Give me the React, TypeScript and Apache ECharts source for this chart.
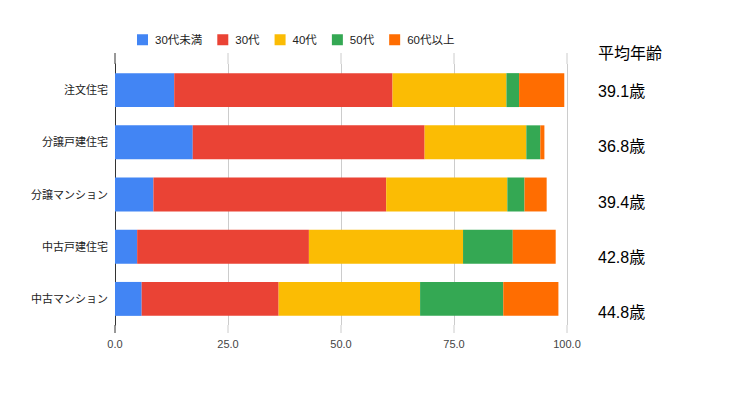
import React, { useEffect, useRef } from "react";
import * as echarts from "echarts";

const categories = ["注文住宅", "分譲戸建住宅", "分譲マンション", "中古戸建住宅", "中古マンション"];
const seriesNames = ["30代未満", "30代", "40代", "50代", "60代以上"];
const under30 = [13.1, 17.2, 8.5, 4.9, 5.9];
const age30s = [48.3, 51.3, 51.5, 38.0, 30.3];
const age40s = [25.2, 22.5, 26.8, 34.1, 31.3];
const age50s = [2.8, 3.1, 3.8, 11.0, 18.4];
const over60 = [10.0, 0.9, 4.9, 9.5, 12.2];
const avgAges = ["39.1歳", "36.8歳", "39.4歳", "42.8歳", "44.8歳"];
const avgTitle = "平均年齢";
const xTicks = [0, 25, 50, 75, 100];
const colors = ["#4285F4", "#EA4335", "#FBBC04", "#34A853", "#FF6D01"];

const FONT = "Arial, 'Liberation Sans', 'Noto Sans CJK JP', sans-serif";

export default function App() {
  const ref = useRef<HTMLDivElement>(null);
  useEffect(() => {
    if (!ref.current) return;
    const chart = echarts.init(ref.current, undefined, { renderer: "svg" });
    const values = [under30, age30s, age40s, age50s, over60];
    const avgY = [92, 147, 203, 258, 313];
    chart.setOption({
      animation: false,
      textStyle: { fontFamily: FONT },
      legend: {
        top: 29,
        left: 132,
        itemWidth: 11,
        itemHeight: 11,
        itemGap: 15,
        icon: "rect",
        textStyle: { fontSize: 11.5, color: "#222", fontFamily: FONT, padding: [0, 0, 0, 2] },
        data: seriesNames,
      },
      grid: { left: 115, right: 186, top: 64, bottom: 69 },
      xAxis: {
        type: "value",
        min: 0,
        max: 100,
        interval: 25,
        axisLine: { show: false },
        axisTick: { show: false },
        splitLine: { lineStyle: { color: "#cccccc" } },
        axisLabel: {
          color: "#444",
          fontSize: 11,
          margin: 13,
          fontFamily: FONT,
          formatter: (v: number) => v.toFixed(1),
        },
      },
      yAxis: {
        type: "category",
        inverse: true,
        data: categories,
        axisLine: { show: true, lineStyle: { color: "#333", width: 1 } },
        axisTick: { show: false },
        axisLabel: { color: "#222", fontSize: 11, margin: 7, fontFamily: FONT },
      },
      series: seriesNames.map((name, i) => ({
        name,
        type: "bar",
        stack: "total",
        barCategoryGap: "35%",
        itemStyle: { color: colors[i] },
        data: values[i],
      })),
    });
    const gfx: any[] = [];
    xTicks.forEach((t) => {
      const x = chart.convertToPixel({ xAxisIndex: 0 }, t) as number;
      const col = t === 0 ? "#333" : "#cccccc";
      gfx.push({ type: "line", silent: true, shape: { x1: x, y1: 53, x2: x, y2: 64 }, style: { stroke: col, lineWidth: 1 } });
      gfx.push({ type: "line", silent: true, shape: { x1: x, y1: 325, x2: x, y2: 333 }, style: { stroke: col, lineWidth: 1 } });
    });
    gfx.push({
      type: "text",
      left: 598,
      top: 54 - 9,
      style: { text: avgTitle, fontSize: 16, fill: "#000", fontFamily: FONT },
    });
    avgAges.forEach((a, i) => {
      gfx.push({
        type: "text",
        left: 598,
        top: avgY[i] - 9,
        style: { text: a, fontSize: 16, fill: "#000", fontFamily: FONT },
      });
    });
    chart.setOption({ graphic: gfx });
    return () => chart.dispose();
  }, []);
  return (
    <div
      ref={ref}
      style={{ position: "absolute", left: 0, top: 0, width: 753, height: 394, background: "#fff" }}
    />
  );
}
